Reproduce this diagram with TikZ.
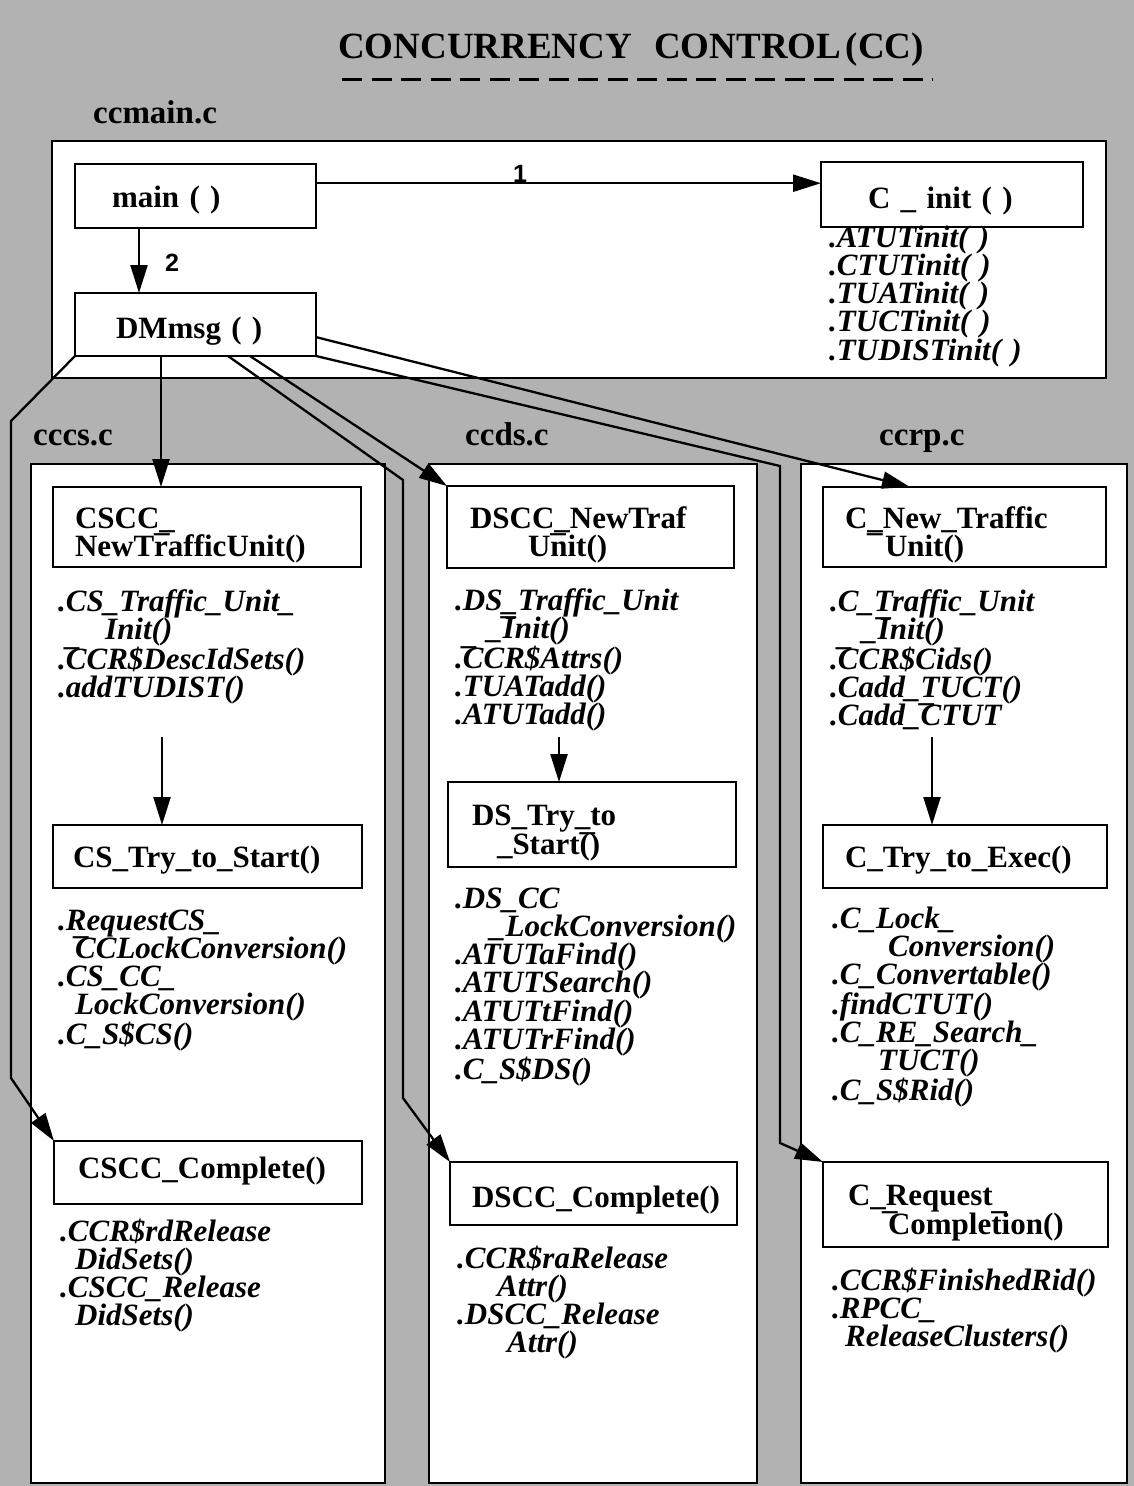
\documentclass[tikz,border=0pt]{standalone}
\usepackage{fontspec}
\setmainfont{Liberation Serif}
\newfontfamily\labelsans{Liberation Sans}
\usetikzlibrary{arrows.meta,calc}

\definecolor{screen}{gray}{0.70}
\newcommand\boxfont{\bfseries\fontsize{31}{28}\selectfont}
\newcommand\listfont{\bfseries\itshape\fontsize{31}{28.3}\selectfont}
\newcommand\filefont{\bfseries\fontsize{33}{34}\selectfont}
\newcommand\headfont{\bfseries\fontsize{37}{40}\selectfont}
% stray underscore printed high, over the next glyph (no effect on spacing)
\newcommand\hibar{\rlap{\smash{\raisebox{0.78em}{\_}}}}

\begin{document}
\begin{tikzpicture}[x=1pt,y=-1pt,
  lw/.style={line width=2.3pt},
  filebox/.style={draw, fill=white, lw, anchor=north west, inner sep=0pt, outer sep=0pt},
  fbox/.style={draw, fill=white, lw, anchor=north west, inner ysep=0pt, outer sep=0pt,
               align=left, font=\boxfont},
  fnlist/.style={anchor=base west, inner sep=0pt, align=left, text width=330pt, font=\listfont},
  filelabel/.style={anchor=base west, inner sep=0pt, font=\filefont},
  arr/.style={lw, line join=miter, -{Triangle[length=28pt,width=17pt]}},
  steplbl/.style={font=\labelsans\bfseries\fontsize{25}{25}\selectfont, inner sep=0pt}
]
\useasboundingbox (0,0) rectangle (1134,1486);
\fill[screen] (0,0) rectangle (1134,1486);

% heading
\node[anchor=base, inner sep=0pt, font=\headfont] (title) at (631,58)
  {CONCURRENCY\hspace{0.6em}CONTROL\hspace{0.12em}(CC)};
\draw[line width=3pt, dash pattern=on 20pt off 9.5pt] (342,79) -- (933,79);

% source files
\node[filelabel] (lmain) at (93,123) {ccmain.c};
\node[filebox, minimum width=1054pt, minimum height=237pt] (ccmain) at (52,141) {};
\node[filelabel] (lcs) at (33,445) {cccs.c};
\node[filelabel] (lds) at (465,445) {ccds.c};
\node[filelabel] (lrp) at (879,445) {ccrp.c};
\node[filebox, minimum width=354pt, minimum height=1019pt] (cccs) at (31,464) {};
\node[filebox, minimum width=328pt, minimum height=1019pt] (ccds) at (429,464) {};
\node[filebox, minimum width=326pt, minimum height=1019pt] (ccrp) at (801,464) {};

% ccmain.c
\node[fbox, minimum width=241pt, minimum height=64pt, inner xsep=37pt, text width=167pt,
      text height=43pt, text depth=21pt] (mainf) at (75,164) {main ( )};
\node[fbox, minimum width=241pt, minimum height=63pt, inner xsep=41pt, text width=159pt,
      text height=45pt, text depth=18pt] (dmmsg) at (75,293) {DMmsg ( )};
\node[fbox, minimum width=262pt, minimum height=65pt, inner xsep=47pt, text width=168pt,
      text height=46pt, text depth=19pt] (cinit) at (821,162) {C \_ init ( )};
\node[fnlist] (initlist) at (829,247)
  {.ATUTinit( )\\.CTUTinit( )\\.TUATinit( )\\.TUCTinit( )\\.TUDISTinit( )};

% cccs.c
\node[fbox, minimum width=308pt, minimum height=80pt, inner xsep=22pt, text width=264pt,
      text height=41pt, text depth=39pt] (csnew) at (53,487) {CSCC\_\\NewT\hibar rafficUnit()};
\node[fnlist] (cslist1) at (58,611)
  {.CS\_Traffic\_Unit\_\\\hspace*{47pt}Init()\\.\hibar CCR\$DescIdSets()\\.addTUDIST()};
\node[fbox, minimum width=309pt, minimum height=63pt, inner xsep=20pt, text width=269pt,
      text height=42pt, text depth=21pt] (cstry) at (53,825) {CS\_Try\_to\_Start()};
\node[fnlist] (cslist2) at (58,930)
  {.RequestCS\_\\\hspace*{17pt}\hibar CCLockConversion()\\.CS\_CC\_\\\hspace*{17pt}LockConversion()\\.C\_S\$CS()};
\node[fbox, minimum width=308pt, minimum height=63pt, inner xsep=24pt, text width=260pt,
      text height=37pt, text depth=26pt] (cscomp) at (54,1141) {CSCC\_Complete()};
\node[fnlist] (cslist3) at (60,1241)
  {.CCR\$rdRelease\\\hspace*{15pt}DidSets()\\.CSCC\_Release\\\hspace*{15pt}DidSets()};

% ccds.c
\node[fbox, minimum width=287pt, minimum height=82pt, inner xsep=23pt, text width=241pt,
      text height=42pt, text depth=40pt] (dsnew) at (447,486) {DSCC\_NewTraf\\\hspace*{58pt}U\hibar nit()};
\node[fnlist] (dslist1) at (455,610)
  {.DS\_Traffic\_Unit\\\hspace*{32pt}\_\hibar Init()\\.\hibar CCR\$Attrs()\\.TUATadd()\\.ATUTadd()};
\node[fbox, minimum width=288pt, minimum height=85pt, inner xsep=24pt, text width=240pt,
      text height=43pt, text depth=42pt] (dstry) at (448,782) {DS\_Try\_to\\\hspace*{25pt}\_Start\hibar()};
\node[fnlist] (dslist2) at (455,908)
  {.DS\_CC\\\hspace*{35pt}\_LockConversion()\\.ATUTaFind()\\.ATUTSearch()\\.ATUTtFind()\\.ATUTrFind()\\.C\_S\$DS()};
\node[fbox, minimum width=287pt, minimum height=63pt, inner xsep=22pt, text width=243pt,
      text height=45pt, text depth=18pt] (dscomp) at (450,1162) {DSCC\_Complete()};
\node[fnlist] (dslist3) at (457,1268)
  {.CCR\$raRelease\\\hspace*{40pt}Attr()\\.DSCC\_Release\\\hspace*{50pt}Attr()};

% ccrp.c
\node[fbox, minimum width=283pt, minimum height=80pt, inner xsep=22pt, text width=239pt,
      text height=41pt, text depth=39pt] (cnew) at (823,487) {C\_New\_Traffic\\\hspace*{22pt}\hibar\hspace*{18pt}Unit()};
\node[fnlist] (rplist1) at (830,611)
  {.C\_Traffic\_Unit\\\hspace*{32pt}\_\hibar Init()\\.\hibar CCR\$Cids()\\.Cadd\_TUCT()\\.Cadd\_\hibar CTUT};
\node[fbox, minimum width=284pt, minimum height=63pt, inner xsep=22pt, text width=240pt,
      text height=42pt, text depth=21pt] (ctry) at (823,825) {C\_Try\_to\_Exec()};
\node[fnlist] (rplist2) at (832,928)
  {.C\_Lock\_\\\hspace*{56pt}Conversion()\\.C\_Convertable()\\.findCTUT()\\.C\_RE\_Search\_\\\hspace*{46pt}TUCT()\\.C\_S\$Rid()};
\node[fbox, minimum width=285pt, minimum height=85pt, inner xsep=25pt, text width=235pt,
      text height=43pt, text depth=42pt] (creq) at (823,1162) {C\_Request\\\hspace*{34pt}\hibar\hspace*{6pt}Comple\hibar tion()};
\node[fnlist] (rplist3) at (832,1290)
  {.CCR\$FinishedRid()\\.RPCC\_\\\hspace*{13pt}ReleaseClusters()};

% bends of the long calls
\coordinate (e1) at (11,421);
\coordinate (e2) at (11,1078);
\coordinate (a1) at (403,480);
\coordinate (a2) at (403,1098);
\coordinate (c1) at (780,466);
\coordinate (c2) at (780,1143);
\coordinate (s1) at (162,737);
\coordinate (s2) at (559,737);
\coordinate (s3) at (932,737);

% calls inside ccmain.c
\draw[arr] ($(mainf.north east)!0.3!(mainf.south east)$) coordinate (m1)
  -- node[steplbl, pos=0.404, anchor=south] (n1) {1} (m1 -| cinit.west);
\draw[arr] ($(mainf.south west)+(64,0)$) coordinate (m2)
  -- node[steplbl, pos=0.54, anchor=west, xshift=25pt] (n2) {2} (m2 |- dmmsg.north);

% calls from DMmsg ( )
\draw[arr] ($(dmmsg.south west)+(86,0)$) coordinate (f0) -- (f0 |- csnew.north);
\draw[arr] (dmmsg.south west) -- (e1) -- (e2) -- (cscomp.north west);
\draw[arr] ($(dmmsg.south west)+(153,0)$) -- (a1) -- (a2) -- (dscomp.north west);
\draw[arr] ($(dmmsg.south west)+(175,0)$) -- (dsnew.north west);
\draw[arr] (dmmsg.south east) -- (c1) -- (c2) -- (creq.north west);
\draw[arr] ($(dmmsg.north east)!0.7!(dmmsg.south east)$) -- ($(cnew.north west)+(87,0)$);

% calls inside each file
\draw[arr] (s1) -- (s1 |- cstry.north);
\draw[arr] (s2) -- (s2 |- dstry.north);
\draw[arr] (s3) -- (s3 |- ctry.north);
\end{tikzpicture}
\end{document}
